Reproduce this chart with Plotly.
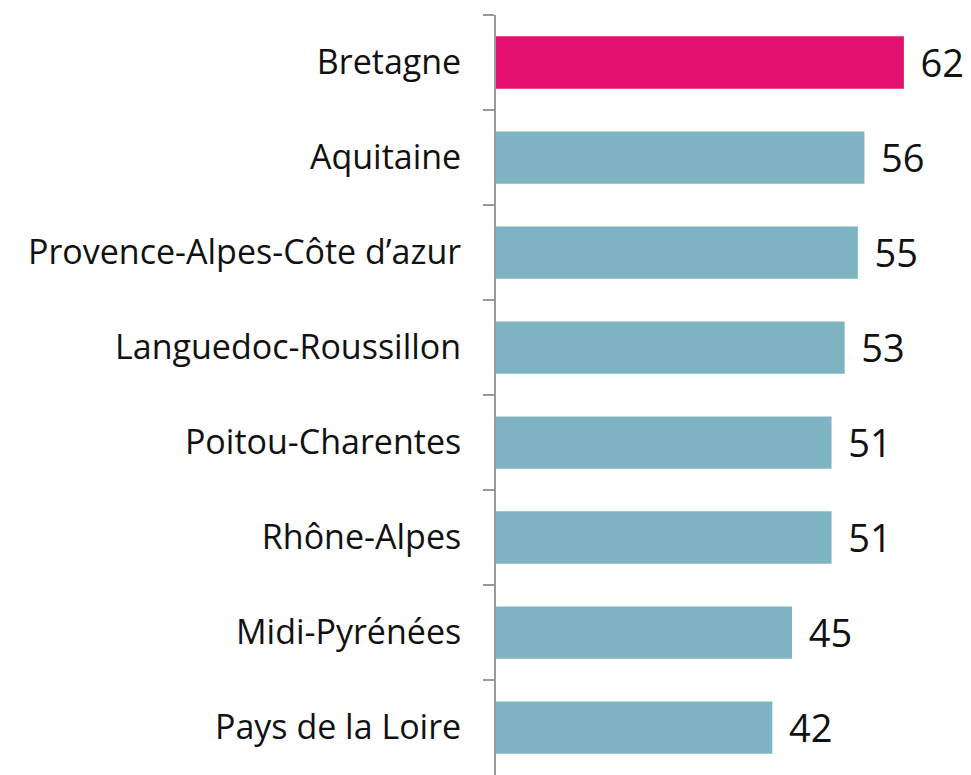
import plotly.graph_objects as go

# Regions and values
regions = [
    "Bretagne",
    "Aquitaine",
    "Provence-Alpes-Côte d’azur",
    "Languedoc-Roussillon",
    "Poitou-Charentes",
    "Rhône-Alpes",
    "Midi-Pyrénées",
    "Pays de la Loire",
]
values = [62, 56, 55, 53, 51, 51, 45, 42]

highlight = "Bretagne"
colors = ["#E3106F" if r == highlight else "#7EB4C1" for r in regions]

fig = go.Figure()

fig.add_trace(
    go.Bar(
        x=values,
        y=regions,
        orientation="h",
        marker=dict(color=colors, line=dict(width=0)),
        text=values,
        texttemplate=" \u200a%{x}",
        textposition="outside",
        textfont=dict(size=40, color="#111111", family="Open Sans"),
        cliponaxis=False,
        width=0.55,
    )
)

# page body has an 8px margin, so the figure is a bit smaller than the window
fig.update_layout(
    width=963,
    height=767,
    margin=dict(l=488, r=0, t=7, b=0),
    plot_bgcolor="white",
    paper_bgcolor="white",
    showlegend=False,
    font=dict(family="Open Sans", size=34, color="#111111"),
    xaxis=dict(
        range=[0, 72.2],
        visible=False,
        showgrid=False,
        zeroline=False,
    ),
    yaxis=dict(
        autorange="reversed",
        showgrid=False,
        zeroline=False,
        showline=True,
        linecolor="#999999",
        linewidth=2,
        ticks="outside",
        tickson="boundaries",
        ticklen=11,
        tickcolor="#999999",
        tickwidth=2,
        ticklabelstandoff=26,
        tickfont=dict(size=34, color="#111111"),
    ),
)

fig.write_html("out.html")
